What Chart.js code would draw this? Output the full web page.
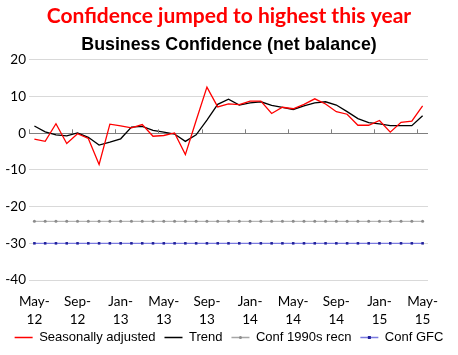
<!DOCTYPE html>
<html>
<head>
<meta charset="utf-8">
<script src="https://cdn.jsdelivr.net/npm/chart.js@4"></script>
<style>
  html, body { margin: 0; padding: 0; background: #ffffff; }
  #wrap { width: 458px; height: 355px; }
</style>
</head>
<body>
<div id="wrap"><canvas id="c" width="458" height="355"></canvas></div>
<script>
// ---- Data ----
const months = [
  'May-12','Jun-12','Jul-12','Aug-12','Sep-12','Oct-12','Nov-12','Dec-12',
  'Jan-13','Feb-13','Mar-13','Apr-13','May-13','Jun-13','Jul-13','Aug-13',
  'Sep-13','Oct-13','Nov-13','Dec-13','Jan-14','Feb-14','Mar-14','Apr-14',
  'May-14','Jun-14','Jul-14','Aug-14','Sep-14','Oct-14','Nov-14','Dec-14',
  'Jan-15','Feb-15','Mar-15','Apr-15','May-15'
];
const seasonallyAdjusted = [
  -1.6, -2.2, 2.6, -2.8, -0.1, -1.4, -8.5, 2.5, 2.0, 1.5, 2.4, -0.8,
  -0.6, 0.1, -5.8, 3.5, 12.6, 7.2, 8.0, 7.8, 8.8, 8.8, 5.4, 7.1,
  6.7, 7.9, 9.4, 8.0, 5.9, 5.2, 2.2, 2.2, 3.5, 0.3, 3.0, 3.3, 7.5
];
const trend = [
  2.0, 0.4, -0.4, -0.7, 0.1, -1.1, -3.2, -2.4, -1.5, 1.7, 1.9, 0.8,
  0.3, -0.2, -2.2, -0.4, 3.6, 7.9, 9.3, 7.7, 8.3, 8.6, 7.6, 7.1,
  6.5, 7.5, 8.3, 8.6, 7.7, 5.9, 4.0, 2.9, 2.6, 2.1, 2.1, 2.1, 4.8
];
const conf1990sLevel = -24;
const confGFCLevel = -30;
const conf1990s = months.map(() => conf1990sLevel);
const confGFC = months.map(() => confGFCLevel);
const yTicks = [20, 10, 0, -10, -20, -30, -40];
const seriesNames = ['Seasonally adjusted', 'Trend', 'Conf 1990s recn', 'Conf GFC'];
const titleText = 'Confidence jumped to highest this year';
const subtitleText = 'Business Confidence (net balance)';

const LEGEND_BOX = 18;

// ---- Plugins ----
const axisTicks = {
  id: 'axisTicks',
  afterLayout(chart) {
    // let the two-line month labels overflow the axis box instead of being clipped
    const xs = chart.scales.x;
    if (xs) xs._computeLabelArea = () => undefined;
  },
  afterDatasetsDraw(chart) {
    const xs = chart.scales.x, ys = chart.scales.y, ctx = chart.ctx;
    const y0 = ys.getPixelForValue(0);
    const half = (xs.getPixelForValue(1) - xs.getPixelForValue(0)) / 2;
    ctx.save();
    ctx.strokeStyle = '#7f7f7f';
    ctx.lineWidth = 1;
    ctx.beginPath();
    for (let i = 0; i < months.length; i += 4) {
      const x = Math.round(xs.getPixelForValue(i) - half) + 0.5;
      ctx.moveTo(x, y0);
      ctx.lineTo(x, y0 - 4);
    }
    ctx.stroke();
    ctx.restore();
  },
  afterDraw(chart) {
    const lg = chart.legend;
    if (!lg || !lg.legendHitBoxes) return;
    const ctx = chart.ctx;
    [[2, '#8c8c8c', 'circle'], [3, '#1f1f9a', 'rect']].forEach(([i, col, st]) => {
      const hb = lg.legendHitBoxes[i];
      if (!hb) return;
      const cx = hb.left + LEGEND_BOX / 2, cy = hb.top + hb.height / 2;
      ctx.save();
      ctx.fillStyle = col;
      if (st === 'circle') { ctx.beginPath(); ctx.arc(cx, cy, 1.5, 0, Math.PI * 2); ctx.fill(); }
      else ctx.fillRect(cx - 1.5, cy - 1.5, 3, 3);
      ctx.restore();
    });
  }
};

new Chart(document.getElementById('c'), {
  type: 'line',
  data: {
    labels: months,
    datasets: [
      { label: seriesNames[0], data: seasonallyAdjusted, borderColor: '#ff0000', backgroundColor: '#ff0000', borderWidth: 1.3, pointRadius: 0, tension: 0 },
      { label: seriesNames[1], data: trend, borderColor: '#000000', backgroundColor: '#000000', borderWidth: 1.3, pointRadius: 0, tension: 0 },
      { label: seriesNames[2], data: conf1990s, borderColor: '#a6a6a6', backgroundColor: '#8c8c8c', borderWidth: 1, pointRadius: 1.5, pointStyle: 'circle', pointBorderWidth: 0, pointBackgroundColor: '#8c8c8c' },
      { label: seriesNames[3], data: confGFC, borderColor: '#7b7be0', backgroundColor: '#1f1f9a', borderWidth: 1.2, pointRadius: 1.8, pointStyle: 'rect', pointBorderWidth: 0, pointBackgroundColor: '#1f1f9a' }
    ]
  },
  options: {
    responsive: false,
    animation: false,
    devicePixelRatio: 1,
    layout: { padding: { left: 0, right: 0, top: 4, bottom: 1 } },
    plugins: {
      title: {
        display: true, text: titleText, color: '#ff0000',
        font: { family: 'Lato', size: 21, weight: 'bold', lineHeight: 1.2 },
        padding: { top: 0, bottom: 5.5 }
      },
      subtitle: {
        display: true, text: subtitleText, color: '#000000',
        font: { family: 'Liberation Sans', size: 17.8, weight: 'bold', lineHeight: 1.2 },
        padding: { top: 0, bottom: 3.9 }
      },
      legend: {
        position: 'bottom',
        labels: {
          usePointStyle: true, pointStyleWidth: LEGEND_BOX,
          color: '#000000', padding: 9,
          font: { family: 'Liberation Sans', size: 13 },
          generateLabels: (chart) => chart.data.datasets.map((ds, i) => ({
            text: ds.label,
            fillStyle: ds.borderColor,
            strokeStyle: ds.borderColor,
            lineWidth: 1.5,
            pointStyle: 'line',
            hidden: false,
            datasetIndex: i,
            fontColor: '#000000'
          }))
        }
      },
      tooltip: { enabled: false }
    },
    scales: {
      x: {
        offset: true,
        afterFit: (s) => { s.height = 42; },
        grid: { display: false, drawTicks: false },
        border: { display: false },
        ticks: {
          autoSkip: false, maxRotation: 0, minRotation: 0,
          color: '#000000', padding: 13,
          font: { family: 'Lato', size: 13.5, lineHeight: 1.33 },
          callback: function (v, i) {
            if (i % 4 !== 0) return null;
            const p = months[i].split('-');
            return [p[0] + '-', p[1]];
          }
        }
      },
      y: {
        min: -40, max: 20,
        afterFit: (s) => { s.width = 29; },
        grid: {
          drawTicks: false,
          color: (c) => (c.tick && c.tick.value === 0 ? '#7f7f7f' : '#d9d9d9'),
          lineWidth: 1
        },
        border: { display: false },
        afterBuildTicks: (s) => { s.ticks = yTicks.map(v => ({ value: v })); },
        ticks: {
          color: '#000000', padding: 3,
          font: { family: 'Lato', size: 13.5 }
        }
      },
      yRight: {
        position: 'right',
        afterFit: (s) => { s.width = 30; },
        grid: { display: false, drawTicks: false },
        border: { display: false },
        ticks: { display: false }
      }
    }
  },
  plugins: [axisTicks]
});
</script>
</body>
</html>
